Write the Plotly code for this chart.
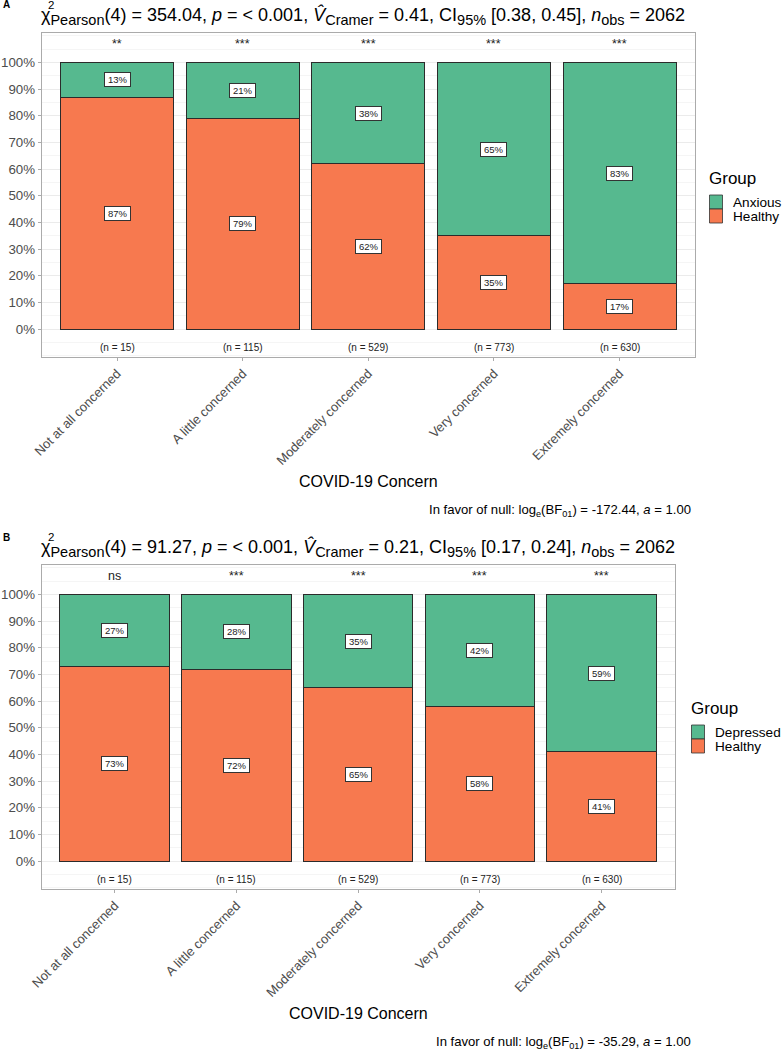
import plotly.graph_objects as go

W, H = 782, 1050

categories = ["Not at all concerned", "A little concerned", "Moderately concerned",
              "Very concerned", "Extremely concerned"]
n_labels = ["(n = 15)", "(n = 115)", "(n = 529)", "(n = 773)", "(n = 630)"]

a_healthy = [87, 79, 62, 35, 17]
a_anxious = [13, 21, 38, 65, 83]
a_sig = ["**", "***", "***", "***", "***"]

b_healthy = [73, 72, 65, 58, 41]
b_depressed = [27, 28, 35, 42, 59]
b_sig = ["ns", "***", "***", "***", "***"]

y_ticks = list(range(0, 101, 10))
y_ticklabels = [f"{v}%" for v in y_ticks]


def sub(t, size=14.5):
    return f"<sub><span style='font-size:{size}px'>{t}</span></sub>"


title_a = ("χ" + sub("Pearson") + "(4) = 354.04, <i>p</i> = < 0.001, <i>V\u0302</i>" + sub("Cramer") +
           " = 0.41, CI" + sub("95%") + " [0.38, 0.45], <i>n</i>" + sub("obs") + " = 2062")
title_b = ("χ" + sub("Pearson") + "(4) = 91.27, <i>p</i> = < 0.001, <i>V\u0302</i>" + sub("Cramer") +
           " = 0.21, CI" + sub("95%") + " [0.17, 0.24], <i>n</i>" + sub("obs") + " = 2062")
caption_a = "In favor of null: log<sub>e</sub>(BF<sub>01</sub>) = -172.44, <i>a</i> = 1.00"
caption_b = "In favor of null: log<sub>e</sub>(BF<sub>01</sub>) = -35.29, <i>a</i> = 1.00"

GREEN = "#56B98F"
ORANGE = "#F7794F"
FONT = "Liberation Sans, Arial, sans-serif"


def px_x(p):
    return p / W


def px_y(p):
    return 1 - p / H


fig = go.Figure()
annotations = []
shapes = []

panels = [
    dict(idx="", off=0, right=695, healthy=a_healthy, other=a_anxious, other_name="Anxious",
         sig=a_sig, title=title_a, caption=caption_a, letter="A", legx=708, legy=178),
    dict(idx="2", off=532, right=674.7, healthy=b_healthy, other=b_depressed, other_name="Depressed",
         sig=b_sig, title=title_b, caption=caption_b, letter="B", legx=690, legy=708),
]

for p in panels:
    xa = "x" + p["idx"]
    ya = "y" + p["idx"]
    off = p["off"]
    left = 41.7
    right = p["right"]
    top = 33 + off
    bottom = 357 + off
    fig.add_trace(go.Bar(x=categories, y=p["healthy"], name="Healthy", marker_color=ORANGE,
                         marker_line=dict(color="#2b2b2b", width=1), width=0.9,
                         xaxis=xa, yaxis=ya, showlegend=False, hoverinfo="skip"))
    fig.add_trace(go.Bar(x=categories, y=p["other"], name=p["other_name"], marker_color=GREEN,
                         marker_line=dict(color="#2b2b2b", width=1), width=0.9,
                         xaxis=xa, yaxis=ya, showlegend=False, hoverinfo="skip"))
    axis_common = dict(showline=True, mirror=True, linecolor="#ABABAB", linewidth=1,
                       ticks="outside", ticklen=3, tickcolor="#ABABAB", automargin=False)
    fig.update_layout(**{
        ("xaxis" + p["idx"]): dict(domain=[px_x(left), px_x(right)], anchor=ya,
                                   type="category", categoryorder="array", categoryarray=categories,
                                   range=[-0.6, 4.6], tickangle=-45, showgrid=False,
                                   tickfont=dict(size=13, color="#4D4D4D", family=FONT),
                                   **axis_common),
        ("yaxis" + p["idx"]): dict(domain=[px_y(bottom), px_y(top)], anchor=xa,
                                   range=[-10.5, 111], tickvals=y_ticks, ticktext=y_ticklabels,
                                   showgrid=True, gridcolor="#EBEBEB", gridwidth=1, zeroline=False,
                                   minor=dict(dtick=5, tick0=5, showgrid=True, gridcolor="#F5F5F5",
                                              gridwidth=1, ticks=""),
                                   tickfont=dict(size=13.3, color="#4D4D4D", family=FONT),
                                   **axis_common),
    })
    for i, c in enumerate(categories):
        h = p["healthy"][i]
        o = p["other"][i]
        for val, ypos in ((h, h / 2), (o, h + o / 2)):
            annotations.append(dict(x=c, y=ypos, xref=xa, yref=ya, text=f"\u2009{val}%\u2009",
                                    showarrow=False,
                                    font=dict(size=9.5, color="#222", family=FONT), bgcolor="white",
                                    bordercolor="#333", borderwidth=1, borderpad=1))
        annotations.append(dict(x=c, y=107, xref=xa, yref=ya, text=p["sig"][i], showarrow=False,
                                font=dict(size=12.5, color="#222", family=FONT)))
        annotations.append(dict(x=c, y=-6.75, xref=xa, yref=ya, text=n_labels[i], showarrow=False,
                                font=dict(size=10, color="#222", family=FONT)))
    # title
    annotations.append(dict(x=px_x(39), y=px_y(16 + off), xref="paper", yref="paper", xanchor="left",
                            yanchor="middle", text=p["title"], showarrow=False,
                            font=dict(size=18, color="black", family=FONT)))
    annotations.append(dict(x=px_x(45.5), y=px_y(4.5 + off), xref="paper", yref="paper", xanchor="left",
                            yanchor="middle", text="2", showarrow=False,
                            font=dict(size=11.5, color="black", family=FONT)))
    # panel letter
    annotations.append(dict(x=px_x(1), y=px_y(5 + off), xref="paper", yref="paper", xanchor="left",
                            yanchor="middle", text="<b>" + p["letter"] + "</b>", showarrow=False,
                            font=dict(size=10, color="black", family=FONT)))
    # axis title
    annotations.append(dict(x=px_x((left + right) / 2), y=px_y(481 + off), xref="paper", yref="paper",
                            xanchor="center", yanchor="middle", text="COVID-19 Concern", showarrow=False,
                            font=dict(size=16, color="black", family=FONT)))
    # caption
    annotations.append(dict(x=px_x(693), y=px_y(510 + off), xref="paper", yref="paper", xanchor="right",
                            yanchor="middle", text=p["caption"], showarrow=False,
                            font=dict(size=13.1, color="black", family=FONT)))
    # legend (drawn manually)
    lx, ly = p["legx"], p["legy"]
    annotations.append(dict(x=px_x(lx - 1), y=px_y(ly), xref="paper", yref="paper", xanchor="left",
                            yanchor="middle", text="Group", showarrow=False,
                            font=dict(size=17, color="black", family=FONT)))
    for j, (name, col) in enumerate(((p["other_name"], GREEN), ("Healthy", ORANGE))):
        y0 = ly + 17 + 14 * j
        shapes.append(dict(type="rect", xref="paper", yref="paper",
                           x0=px_x(lx + 1.5), x1=px_x(lx + 14.5), y0=px_y(y0), y1=px_y(y0 + 14),
                           fillcolor=col, line=dict(color="#333", width=0.8)))
        annotations.append(dict(x=px_x(lx + 23), y=px_y(y0 + 7.5), xref="paper", yref="paper",
                                xanchor="left", yanchor="middle", text=name, showarrow=False,
                                font=dict(size=13.6, color="black", family=FONT)))

fig.update_layout(width=W, height=H, margin=dict(l=0, r=0, t=0, b=0, pad=0, autoexpand=False),
                  barmode="stack", plot_bgcolor="white", paper_bgcolor="white",
                  annotations=annotations, shapes=shapes,
                  font=dict(family=FONT), showlegend=False)

fig.write_html("out.html", config={"displayModeBar": False},
               post_script="document.body.style.margin='0';document.body.style.overflow='hidden';")
